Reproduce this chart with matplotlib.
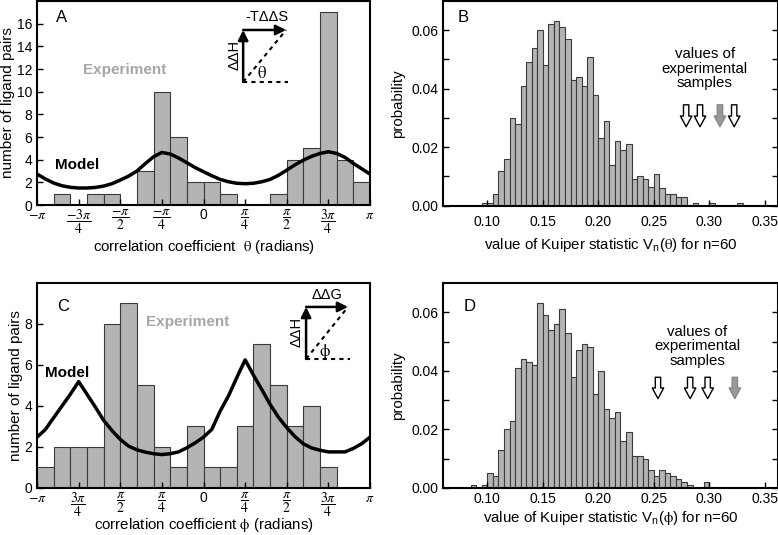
import numpy as np
import matplotlib
matplotlib.use("Agg")
import matplotlib.pyplot as plt

plt.rcParams['font.family'] = ['Liberation Sans', 'DejaVu Sans']
plt.rcParams['mathtext.fontset'] = 'stix'
plt.rcParams['font.size'] = 10

# ---- panel A: histogram of theta (20 bins of pi/10) ----
theta_edges = np.arange(20) * np.pi / 10 - np.pi
counts_A = [0, 1, 0, 1, 1, 0, 3, 10, 6, 2, 2, 1, 0, 0, 1, 4, 5, 17, 4, 2]
model_x_A = np.arange(41) * np.pi / 20 - np.pi
model_A = [2.73, 2.3, 1.94, 1.7, 1.56, 1.5, 1.5, 1.55, 1.67, 1.88, 2.2, 2.55, 3.0, 3.65,
           4.26, 4.64, 4.5, 4.15, 3.73, 3.3, 2.94, 2.58, 2.26, 2.05, 1.92, 1.88, 1.92, 2.05,
           2.26, 2.62, 3.08, 3.55, 3.96, 4.3, 4.55, 4.7, 4.55, 4.2, 3.67, 3.2, 2.73]

# ---- panel C: histogram of phi ----
counts_C = [1, 2, 2, 2, 8, 9, 5, 2, 1, 3, 1, 1, 3, 7, 5, 3, 4, 1, 0, 0]
model_x_C = np.arange(41) * np.pi / 20 - np.pi
model_C = [2.48, 2.85, 3.43, 4.0, 4.57, 5.19, 4.57, 3.95, 3.3, 2.8, 2.37, 2.04, 1.86, 1.75,
           1.67, 1.63, 1.67, 1.76, 1.96, 2.2, 2.48, 2.86, 3.75, 4.49, 5.39, 6.25, 5.5, 4.8,
           4.08, 3.45, 2.94, 2.5, 2.15, 1.95, 1.84, 1.76, 1.76, 1.76, 1.93, 2.16, 2.48]

tick_pos = np.arange(-4, 5) * np.pi / 4
labels_A = [r'$-\pi$', r'$\dfrac{-3\pi}{4}$', r'$\dfrac{-\pi}{2}$', r'$\dfrac{-\pi}{4}$', '0',
            r'$\dfrac{\pi}{4}$', r'$\dfrac{\pi}{2}$', r'$\dfrac{3\pi}{4}$', r'$\pi$']
labels_C = [r'$-\pi$', r'$\dfrac{3\pi}{4}$', r'$\dfrac{\pi}{2}$', r'$\dfrac{\pi}{4}$', '0',
            r'$\dfrac{\pi}{4}$', r'$\dfrac{\pi}{2}$', r'$\dfrac{3\pi}{4}$', r'$\pi$']

# ---- panels B, D: Kuiper statistic distributions (bin width 0.005) ----
start_B = 0.095
prob_B = [0.001, 0.001, 0.004, 0.012, 0.016, 0.030, 0.028, 0.041, 0.049, 0.054, 0.060,
          0.048, 0.062, 0.063, 0.061, 0.057, 0.043, 0.044, 0.041, 0.051, 0.038, 0.023,
          0.029, 0.014, 0.022, 0.019, 0.021, 0.009, 0.010, 0.009, 0.0065, 0.011, 0.006,
          0.004, 0.004, 0.003, 0.003, 0, 0.001, 0, 0, 0.001, 0, 0, 0, 0, 0.001]
arrows_B = [0.2792, 0.2917, 0.3097, 0.3225]
arrow_col_B = ['white', 'white', '#999999', 'white']

start_D = 0.085
prob_D = [0.001, 0, 0.001, 0.005, 0.004, 0.013, 0.020, 0.023, 0.041, 0.044, 0.043, 0.042,
          0.063, 0.059, 0.054, 0.056, 0.061, 0.053, 0.038, 0.047, 0.049, 0.048, 0.032,
          0.040, 0.027, 0.024, 0.026, 0.016, 0.019, 0.011, 0.011, 0.010, 0.006, 0.004,
          0.006, 0.005, 0.004, 0.003, 0.002, 0.001, 0, 0, 0.002]
arrows_D = [0.2538, 0.2828, 0.2986, 0.3231]
arrow_col_D = ['white', 'white', 'white', '#999999']

bar_fc = '#b4b4b4'
bar_ec = '#3a3a3a'

fig = plt.figure(figsize=(7.78, 5.35), dpi=100)
axA = fig.add_axes([0.0476, 0.6168, 0.4280, 0.3813])
axB = fig.add_axes([0.5694, 0.6155, 0.4306, 0.3826])
axC = fig.add_axes([0.0476, 0.0879, 0.4280, 0.3832])
axD = fig.add_axes([0.5694, 0.0879, 0.4306, 0.3832])


def style(ax):
    for s in ax.spines.values():
        s.set_linewidth(1.5)
    ax.tick_params(direction='in', length=4, width=1, labelsize=10)


def angle_panel(ax, counts, mx, my, ymax, yticks, labels, xlabel, xlpad, letter, inset):
    ax.bar(theta_edges, counts, width=np.pi / 10, align='edge', color=bar_fc,
           edgecolor=bar_ec, linewidth=0.8)
    ax.plot(mx, my, color='black', lw=2.5)
    ax.set_xlim(-np.pi, np.pi)
    ax.set_ylim(0, ymax)
    ax.set_yticks(yticks)
    ax.set_xticks(tick_pos)
    ax.set_xticklabels(labels, fontsize=11.5)
    ax.set_xlabel(xlabel, fontsize=10.8, labelpad=xlpad)
    ax.set_ylabel('number of ligand pairs', fontsize=11, labelpad=1)
    style(ax)
    ax.tick_params(axis='x', pad=2)
    ax.text(*letter[1], letter[0], transform=ax.transAxes, fontsize=12, ha='center', va='center')
    # small vector diagram
    (ox, oy), (tx, ty), hl, vl, gl = inset
    tr = ax.transAxes
    ax.annotate('', xy=(ox, ty), xytext=(ox, oy), xycoords=tr, textcoords=tr,
                arrowprops=dict(arrowstyle='-|>,head_length=0.6,head_width=0.3', color='black',
                                lw=1.8, shrinkA=0, shrinkB=0))
    ax.annotate('', xy=(tx, ty), xytext=(ox, ty), xycoords=tr, textcoords=tr,
                arrowprops=dict(arrowstyle='-|>,head_length=0.6,head_width=0.3', color='black',
                                lw=1.8, shrinkA=0, shrinkB=0))
    ax.plot([ox, tx], [oy, ty], transform=tr, color='black', lw=1.5, ls=(0, (2, 2)))
    ax.plot([ox, tx + 0.005], [oy, oy], transform=tr, color='black', lw=1.5, ls=(0, (2, 2)))
    ax.text(*hl[1], hl[0], transform=tr, ha='center', va='center', fontsize=10.5)
    ax.text(*vl[1], vl[0], transform=tr, ha='center', va='center', fontsize=10.5, rotation=90)
    ax.text(*gl[1], gl[0], transform=tr, ha='center', va='center', fontsize=12)


angle_panel(axA, counts_A, model_x_A, model_A, 18, range(0, 17, 2), labels_A,
            r'correlation coefficient  $\mathrm{\theta}$ (radians)', 1, ('A', (0.075, 0.92)),
            ((0.619, 0.603), (0.748, 0.858), ('-T\u0394\u0394S', (0.69, 0.92)),
             ('\u0394\u0394H', (0.592, 0.735)), (r'$\mathrm{\theta}$', (0.676, 0.647))))
axA.text(0.264, 0.662, 'Experiment', transform=axA.transAxes, color='#a6a6a6',
         fontweight='bold', fontsize=11, ha='center', va='center')
axA.text(0.12, 0.196, 'Model', transform=axA.transAxes, color='black',
         fontweight='bold', fontsize=11, ha='center', va='center')

angle_panel(axC, counts_C, model_x_C, model_C, 10, range(0, 9, 2), labels_C,
            r'correlation coefficient $\mathrm{\phi}$ (radians)', -2, ('C', (0.078, 0.883)),
            ((0.808, 0.629), (0.934, 0.883), ('\u0394\u0394G', (0.87, 0.94)),
             ('\u0394\u0394H', (0.781, 0.761)), (r'$\mathrm{\phi}$', (0.865, 0.663))))
axC.text(0.453, 0.81, 'Experiment', transform=axC.transAxes, color='#a6a6a6',
         fontweight='bold', fontsize=11, ha='center', va='center')
axC.text(0.09, 0.56, 'Model', transform=axC.transAxes, color='black',
         fontweight='bold', fontsize=11, ha='center', va='center')


def kuiper_panel(ax, start, probs, arrows, cols, arrow_y, text_xy, xlabel, letter, pad, xlpad):
    left = start + 0.005 * np.arange(len(probs))
    ax.bar(left, probs, width=0.005, align='edge', color=bar_fc, edgecolor=bar_ec, linewidth=0.8)
    ax.set_xlim(0.06, 0.362)
    ax.set_ylim(0, 0.07)
    ax.set_xticks([0.10, 0.15, 0.20, 0.25, 0.30, 0.35])
    ax.set_xticklabels(['0.10', '0.15', '0.20', '0.25', '0.30', '0.35'])
    ax.set_yticks([0.0, 0.02, 0.04, 0.06])
    ax.set_yticklabels(['0.00', '0.02', '0.04', '0.06'])
    ax.set_yticks(np.arange(0.01, 0.07, 0.01), minor=True)
    style(ax)
    ax.tick_params(which='both', right=True, direction='in')
    ax.tick_params(which='minor', length=4, width=1)
    ax.tick_params(axis='x', pad=pad)
    ax.set_ylabel('probability', fontsize=10.8, labelpad=4)
    ax.set_xlabel(xlabel, fontsize=10.8, labelpad=xlpad)
    ax.text(*letter[1], letter[0], transform=ax.transAxes, fontsize=12, ha='center', va='center')
    ax.text(text_xy[0], text_xy[1], 'values of\nexperimental\nsamples', ha='center', va='center',
            fontsize=10.8, linespacing=1.05)
    for x, c in zip(arrows, cols):
        ax.annotate('', xy=(x, arrow_y[1]), xytext=(x, arrow_y[0]),
                    arrowprops=dict(arrowstyle='simple,head_length=0.7,head_width=0.75,tail_width=0.35',
                                    fc=c, ec='black' if c == 'white' else '#888888', lw=1.0,
                                    shrinkA=0, shrinkB=0, mutation_scale=11))


kuiper_panel(axB, start_B, prob_B, arrows_B, arrow_col_B, (0.0345, 0.027), (0.296, 0.0468),
             r'value of Kuiper statistic V$_\mathregular{n}$($\mathrm{\theta}$) for n=60',
             ('B', (0.06, 0.92)), 7, 5)
kuiper_panel(axD, start_D, prob_D, arrows_D, arrow_col_D, (0.0378, 0.0305), (0.289, 0.0484),
             r'value of Kuiper statistic V$_\mathregular{n}$($\mathrm{\phi}$) for n=60',
             ('D', (0.08, 0.883)), 3, 2)

fig.savefig('out.png', dpi=100)
